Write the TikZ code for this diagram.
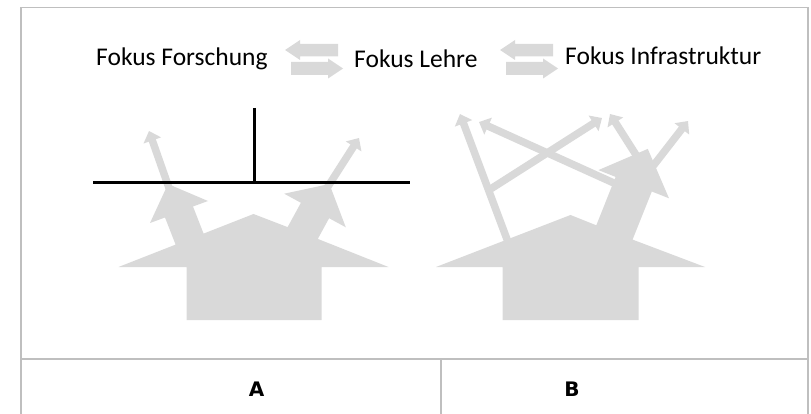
\documentclass[tikz,border=0pt]{standalone}
\usepackage{fontspec}
\setmainfont{Carlito}
\newfontfamily\labfont{DejaVu Sans}
\usetikzlibrary{arrows.meta}
\definecolor{shapegray}{HTML}{D9D9D9}
\definecolor{framegray}{HTML}{BFBFBF}
\begin{document}
\begin{tikzpicture}[x=1pt,y=-1pt,
  shapefill/.style={fill=shapegray,draw=none},
  thinarrow/.style={draw=shapegray,line width=7.5pt,-{Triangle[width=18pt,length=10pt]}},
  frameline/.style={draw=framegray,line width=1.2pt},
  tline/.style={draw=black,line width=3pt},
  headtext/.style={font=\fontsize{25.5}{30}\selectfont,inner sep=0pt,anchor=base west},
  paneltext/.style={font=\labfont\bfseries\fontsize{20}{24}\selectfont,inner sep=0pt}]
\useasboundingbox (0,0) rectangle (811,414);

% frame
\draw[frameline] (21,414) -- (21,7.5) -- (808,7.5) -- (808,414);
\draw[frameline] (21,359) -- (808,359);
\draw[frameline] (441,359) -- (441,414);

% header texts
\node[headtext] (forschung) at (96,66) {Fokus Forschung};
\node[headtext] (lehre) at (354,68) {Fokus Lehre};
\node[headtext] (infra) at (565,65) {Fokus Infrastruktur};

% double arrows
\foreach \dx in {0,215}{
  \begin{scope}[xshift=\dx pt]
    \fill[shapefill] (285,50) -- (300,40) -- (300,44) -- (338,44) -- (338,56.5) -- (300,56.5) -- (300,60) -- cycle;
    \fill[shapefill] (343,68.5) -- (328,58.5) -- (328,62) -- (291,62) -- (291,75) -- (328,75) -- (328,78.5) -- cycle;
  \end{scope}
}

% panel A house with two arrows
\fill[shapefill] (118.5,267) -- (175.6,244.6) -- (165,217.5) -- (150,223) -- (168,184) -- (208,201)
  -- (193,206.5) -- (203.6,233.6) -- (253.5,214) -- (287.6,227.1) -- (300.9,202.8) -- (284.2,193.7)
  -- (329.4,184) -- (345.8,227.3) -- (329.1,218.2) -- (317.8,238.9) -- (388.5,267) -- (321.5,267)
  -- (321.5,320) -- (186.5,320) -- (186.5,267) -- cycle;
\draw[thinarrow] (169,188) -- (149,131);
\draw[thinarrow] (327,188) -- (359,138);

% T lines
\coordinate (tl) at (93,183);
\coordinate (tr) at (410,183);
\coordinate (tm) at (254,183);
\coordinate (tt) at (254,108);
\draw[tline] (tl) -- (tr);
\draw[tline] (tt) -- (tm);

% panel B house with one arrow
\fill[shapefill] (436,267) -- (570.5,215) -- (596.3,225.3) -- (615.6,176.9) -- (598.4,170.1)
  -- (647.8,148.9) -- (669,198.3) -- (651.8,191.5) -- (632.6,239.6) -- (705,267) -- (638.5,267)
  -- (638.5,320) -- (502.5,320) -- (502.5,267) -- cycle;
\draw[thinarrow] (508,242) -- (460,114);
\draw[thinarrow] (489,190) -- (602,118);
\draw[thinarrow] (616,184) -- (479,122);
\draw[thinarrow] (638,158) -- (610,114);
\draw[thinarrow] (650,170) -- (688,121);

% panel labels
\node[paneltext] (labA) at (256.5,389) {A};
\node[paneltext] (labB) at (572,389) {B};
\end{tikzpicture}
\end{document}
